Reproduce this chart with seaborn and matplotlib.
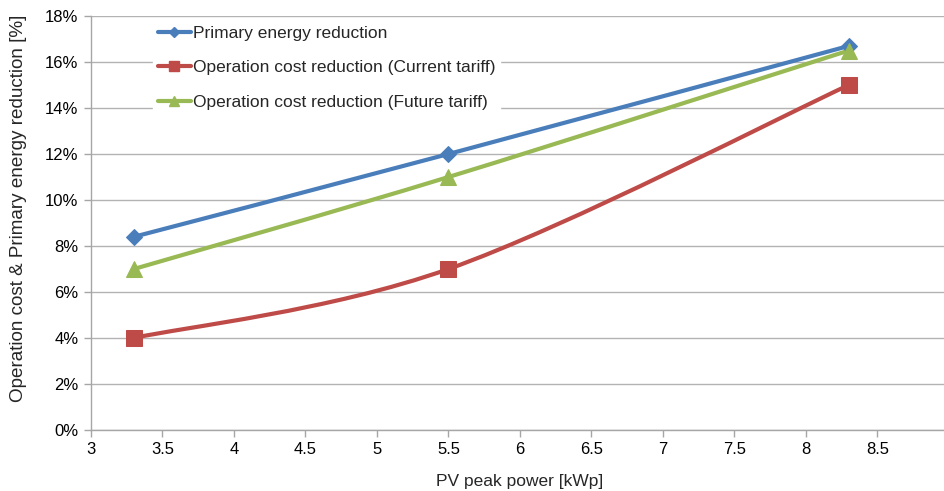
import numpy as np
import pandas as pd
import matplotlib
matplotlib.use("Agg")
import matplotlib.pyplot as plt
from matplotlib.path import Path
from matplotlib.patches import PathPatch
from matplotlib.lines import Line2D
from matplotlib.ticker import FuncFormatter, MultipleLocator
import seaborn as sns

# ---- data ----
pv_power = [3.3, 5.5, 8.3]
primary_energy = [8.4, 12.0, 16.7]
cost_current = [4.0, 7.0, 15.0]
cost_future = [7.0, 11.0, 16.5]
series_names = ["Primary energy reduction",
                "Operation cost reduction (Current tariff)",
                "Operation cost reduction (Future tariff)"]
x_label = "PV peak power [kWp]"
y_label = "Operation cost & Primary energy reduction [%]"

colors = ["#4A7EBB", "#BE4B48", "#98B954"]
markers = ["D", "s", "^"]
msizes = [8, 11, 11]

sns.set_theme(style="white")
plt.rcParams["font.family"] = ["Liberation Sans", "DejaVu Sans"]

fig = plt.figure(figsize=(9.45, 4.91), dpi=100)
ax = fig.add_axes([91 / 945, 1 - 430 / 491, 858 / 945, 414 / 491])

df = pd.DataFrame({
    "x": pv_power * 3,
    "y": primary_energy + cost_current + cost_future,
    "s": [series_names[0]] * 3 + [series_names[1]] * 3 + [series_names[2]] * 3,
})


def smooth_path(xs, ys, tension=1 / 6):
    pts = np.column_stack([xs, ys]).astype(float)
    n = len(pts)
    verts = [pts[0]]
    codes = [Path.MOVETO]
    for i in range(n - 1):
        p_prev = pts[max(i - 1, 0)]
        p0 = pts[i]
        p1 = pts[i + 1]
        p_next = pts[min(i + 2, n - 1)]
        c1 = p0 + (p1 - p_prev) * tension
        c2 = p1 - (p_next - p0) * tension
        verts += [c1, c2, p1]
        codes += [Path.CURVE4] * 3
    return Path(verts, codes)


for name, ys, c in zip(series_names, [primary_energy, cost_current, cost_future], colors):
    patch = PathPatch(smooth_path(pv_power, ys), facecolor="none", edgecolor=c,
                      lw=3.0, capstyle="round", joinstyle="round", zorder=3)
    ax.add_patch(patch)

for name, c, m, ms in zip(series_names, colors, markers, msizes):
    sub = df[df["s"] == name]
    sns.lineplot(data=sub, x="x", y="y", ax=ax, color=c, marker=m, markersize=ms,
                 markeredgecolor=c, linestyle="", legend=False, zorder=4)

ax.set_xlim(3, 9)
ax.set_ylim(0, 18)
ax.xaxis.set_major_locator(MultipleLocator(0.5))
ax.yaxis.set_major_locator(MultipleLocator(2))
ax.xaxis.set_major_formatter(FuncFormatter(lambda v, p: f"{v:g}"))
ax.yaxis.set_major_formatter(FuncFormatter(lambda v, p: f"{v:.0f}%"))

ax.grid(axis="y", color="#B3B3B3", lw=1.0)
ax.grid(axis="x", visible=False)
ax.set_axisbelow(True)
for s in ["top", "right"]:
    ax.spines[s].set_visible(False)
for s in ["left", "bottom"]:
    ax.spines[s].set_color("#A6A6A6")
    ax.spines[s].set_linewidth(1.0)
ax.tick_params(axis="both", which="major", direction="out", length=5, width=1,
               color="#A6A6A6", labelsize=12, labelcolor="black", pad=4,
               bottom=True, left=True)

ax.set_xlabel(x_label, fontsize=12.5, labelpad=12)
ax.set_ylabel(y_label, fontsize=13.6)
ax.yaxis.set_label_coords(-64 / 858, (430 - 208) / 414)

handles = [Line2D([0], [0], color=c, lw=3.0, marker=m, markersize=ms * 0.7,
                  markeredgecolor=c) for c, m, ms in zip(colors, markers, msizes)]
leg = ax.legend(handles, series_names, loc="upper left",
                bbox_to_anchor=(53 / 858, 1.01), fontsize=12.5, frameon=True,
                facecolor="white", edgecolor="white", framealpha=1,
                handlelength=1.9, handletextpad=0.1, labelspacing=1.12,
                borderpad=0.3, fancybox=False)
leg.set_zorder(2.5)

fig.savefig("out.png", dpi=100)
